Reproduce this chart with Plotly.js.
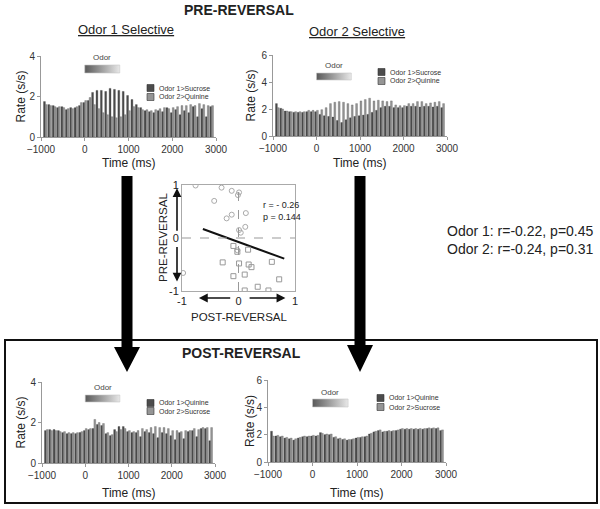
<!DOCTYPE html>
<html>
<head>
<meta charset="utf-8">
<script src="https://cdn.plot.ly/plotly-3.0.1.min.js"></script>
<style>
  body { margin: 0; background: #fff; }
  #chart { width: 600px; height: 509px; }
</style>
</head>
<body>
<div id="chart"></div>
<script>
// time bins (ms), 100 ms wide
const timeBins = [-900,-800,-700,-600,-500,-400,-300,-200,-100,0,100,200,300,400,500,600,700,800,900,1000,
  1100,1200,1300,1400,1500,1600,1700,1800,1900,2000,2100,2200,2300,2400,2500,2600,2700,2800,2900]
const timeTicks = [-1000, 0, 1000, 2000, 3000]
const odorWindow = [0, 800]

// PRE-REVERSAL, odor 1 selective
const preSel1Odor1 = [1.75,1.6,1.55,1.45,1.5,1.35,1.45,1.45,1.55,1.7,1.8,2.2,2.3,2.3,2.25,2.4,2.35,2.3,2.25,2.05,
  1.85,1.6,1.45,1.3,1.25,1.2,1.3,1.25,1.45,1.2,1.35,1.1,1.3,1.2,1.5,1.0,1.4,1.0,1.5]
const preSel1Odor2 = [1.6,1.55,1.5,1.5,1.45,1.4,1.4,1.5,1.7,1.8,1.95,1.6,1.4,1.2,1.1,1.0,0.95,1.0,1.1,1.3,
  1.5,1.45,1.35,1.35,1.3,1.35,1.4,1.45,1.4,1.45,1.5,1.55,1.55,1.6,1.55,1.65,1.6,1.55,1.55]
// PRE-REVERSAL, odor 2 selective
const preSel2Odor1 = [2.4,2.05,1.85,1.8,1.75,1.75,1.75,1.8,1.8,1.8,1.6,1.5,1.45,1.4,1.15,1.0,1.2,1.35,1.45,1.5,
  1.55,1.6,1.75,1.9,2.1,2.2,2.2,2.1,2.1,2.1,2.2,2.2,2.2,2.15,2.2,2.2,2.15,2.2,2.1]
const preSel2Odor2 = [2.1,2.0,1.85,1.8,1.8,1.8,1.8,1.9,1.9,1.9,1.95,2.1,2.4,2.5,2.55,2.5,2.4,2.3,2.4,2.6,
  2.7,2.8,2.6,2.65,2.6,2.55,2.6,2.3,2.25,2.25,2.4,2.4,2.55,2.55,2.4,2.45,2.5,2.55,2.4]
// POST-REVERSAL, odor 1 selective
const postSel1Odor1 = [1.6,1.65,1.65,1.6,1.5,1.45,1.45,1.45,1.5,1.6,1.65,1.7,1.9,1.85,1.45,1.35,1.65,1.8,1.8,1.55,
  1.5,1.5,1.3,1.55,1.5,1.45,1.25,1.5,1.45,1.35,1.15,1.5,1.2,1.55,1.6,1.3,1.7,1.7,1.1]
const postSel1Odor2 = [1.65,1.6,1.6,1.55,1.55,1.5,1.5,1.5,1.55,1.7,1.7,2.15,2.0,1.95,1.5,1.4,1.55,1.65,1.7,1.6,
  1.55,1.6,1.7,1.65,1.75,1.8,1.75,1.75,1.7,1.6,1.6,1.55,1.6,1.6,1.7,1.65,1.75,1.75,1.75]
// POST-REVERSAL, odor 2 selective
const postSel2Odor1 = [2.25,1.9,1.85,1.75,1.7,1.6,1.75,1.85,1.85,1.9,1.9,2.15,2.0,2.0,1.8,1.7,1.65,1.6,1.65,1.75,
  1.8,1.85,2.05,2.2,2.3,2.2,2.25,2.25,2.3,2.4,2.4,2.4,2.4,2.4,2.4,2.45,2.45,2.45,2.3]
const postSel2Odor2 = [1.9,1.95,1.9,1.8,1.75,1.7,1.8,1.9,1.9,1.95,1.95,2.1,2.05,2.05,1.85,1.75,1.7,1.65,1.7,1.8,
  1.85,1.9,2.1,2.25,2.35,2.25,2.3,2.3,2.35,2.45,2.45,2.45,2.45,2.45,2.45,2.5,2.5,2.5,2.35]

// correlation scatter (normalized selectivity)
const circX = [-0.76,-0.30,-0.12,-0.01,0.01,-0.43,-0.12,-0.21,0.13,0.12,0.01,0.04,-0.98,-0.02]
const circY = [0.99,0.95,0.89,0.81,0.86,0.70,0.44,0.37,0.47,0.21,0.15,0.10,-0.66,-0.23]
const sqX = [-0.09,0.17,-0.02,-0.28,0.01,0.18,0.23,0.59,-0.09,0.11,0.72,0.34,0.53,0.11]
const sqY = [-0.15,-0.22,-0.26,-0.46,-0.48,-0.50,-0.55,-0.45,-0.72,-0.69,-0.78,-0.92,-0.99,-0.99]
const fitX = [-0.63, 0.81]
const fitY = [0.17, -0.39]

const W = 600, H = 509
const px = v => v / W
const py = v => 1 - v / H
const FONT = 'Liberation Sans, Arial, Helvetica, sans-serif'
const DARK = '#4c4c4c', LIGHT = '#959595'

const panels = [
  {id: '', o1: preSel1Odor1, o2: preSel1Odor2, yMax: 4, yTicks: [0,2,4], x: [41,216], y: [56,137],
   odorY: [65,73], odorLbl: 58, legX: 147, legY: [88,97], leg: ['Odor 1>Sucrose','Odor 2>Quinine'], timeY: 163, rateX: 20},
  {id: '2', o1: preSel2Odor1, o2: preSel2Odor2, yMax: 6, yTicks: [0,2,4,6], x: [273,447], y: [55,136],
   odorY: [73,80], odorLbl: 66, legX: 378, legY: [72,81], leg: ['Odor 1>Sucrose','Odor 2>Quinine'], timeY: 163, rateX: 250},
  {id: '3', o1: postSel1Odor1, o2: postSel1Odor2, yMax: 4, yTicks: [0,2,4], x: [42,215], y: [382,463],
   odorY: [395,402], odorLbl: 387, legX: 147, legY: [403,411], leg: ['Odor 1>Quinine','Odor 2>Sucrose'], timeY: 493, rateX: 20},
  {id: '4', o1: postSel2Odor1, o2: postSel2Odor2, yMax: 6, yTicks: [0,2,4,6], x: [268,446], y: [380,462],
   odorY: [399,407], odorLbl: 392, legX: 377, legY: [398,407], leg: ['Odor 1>Quinine','Odor 2>Sucrose'], timeY: 493, rateX: 250}
]

const data = []
const annotations = []
const shapes = []
const layout = {
  width: W, height: H,
  margin: {l: 0, r: 0, t: 0, b: 0},
  paper_bgcolor: '#fff', plot_bgcolor: 'rgba(0,0,0,0)',
  font: {family: FONT, color: '#222'},
  showlegend: false,
  barmode: 'group', bargap: 0.15, bargroupgap: 0
}

const txt = (text, x, y, size, extra) => Object.assign({
  text: text, x: px(x), y: py(y), xref: 'paper', yref: 'paper', showarrow: false,
  xanchor: 'center', yanchor: 'middle',
  font: {family: FONT, size: size, color: '#222'}
}, extra || {})

for (const p of panels) {
  const xa = 'x' + p.id, ya = 'y' + p.id
  data.push({type: 'bar', x: timeBins, y: p.o1, xaxis: xa, yaxis: ya,
    marker: {color: DARK, line: {width: 0.3, color: '#333'}}, hoverinfo: 'skip'})
  data.push({type: 'bar', x: timeBins, y: p.o2, xaxis: xa, yaxis: ya,
    marker: {color: LIGHT, line: {width: 0.3, color: '#555'}}, hoverinfo: 'skip'})

  // gradient "Odor" bar over the odor period
  const toData = v => (p.y[1] - v) / (p.y[1] - p.y[0]) * p.yMax
  const lo = toData(p.odorY[1]), hi = toData(p.odorY[0])
  data.push({type: 'scatter', mode: 'lines', xaxis: xa, yaxis: ya, hoverinfo: 'skip',
    x: [odorWindow[0], odorWindow[1], odorWindow[1], odorWindow[0], odorWindow[0]],
    y: [lo, lo, hi, hi, lo], fill: 'toself',
    fillgradient: {type: 'horizontal', colorscale: [[0, '#595959'], [1, '#e8e8e8']]},
    line: {width: 0.6, color: '#c8c8c8'}})
  annotations.push({text: 'Odor', x: (odorWindow[0] + odorWindow[1]) / 2, xref: xa, y: py(p.odorLbl), yref: 'paper',
    xanchor: 'center', yanchor: 'middle', showarrow: false, font: {family: FONT, size: 8, color: '#444'}})

  layout['xaxis' + p.id] = {domain: [px(p.x[0]), px(p.x[1])], anchor: ya, range: [-1000, 3000],
    tickvals: timeTicks, showline: true, linecolor: '#999', ticks: 'outside', ticklen: 3, tickcolor: '#999',
    tickfont: {family: FONT, size: 10, color: '#333'}, showgrid: false, zeroline: false, fixedrange: true}
  layout['yaxis' + p.id] = {domain: [py(p.y[1]), py(p.y[0])], anchor: xa, range: [0, p.yMax],
    tickvals: p.yTicks, showline: true, linecolor: '#999', ticks: 'outside', ticklen: 3, tickcolor: '#999',
    tickfont: {family: FONT, size: 10, color: '#333'}, showgrid: false, zeroline: false, fixedrange: true}

  annotations.push(txt('Time (ms)', (p.x[0] + p.x[1]) / 2, p.timeY, 12))
  annotations.push(txt('Rate (s/s)', p.rateX, (p.y[0] + p.y[1]) / 2, 12, {textangle: -90}))

  // small legend
  const cols = [DARK, LIGHT]
  for (let i = 0; i < 2; i++) {
    shapes.push({type: 'rect', xref: 'paper', yref: 'paper', x0: px(p.legX), x1: px(p.legX + 7),
      y0: py(p.legY[i] + 3.5), y1: py(p.legY[i] - 3.5), fillcolor: cols[i], line: {width: 0.6, color: '#333'}})
    annotations.push(txt(p.leg[i], p.legX + 10, p.legY[i], 7, {xanchor: 'left', font: {family: FONT, size: 7, color: '#333'}}))
  }
}

// scatter of selectivity, pre vs post
data.push({type: 'scatter', mode: 'lines', x: fitX, y: fitY, xaxis: 'x5', yaxis: 'y5',
  line: {color: '#111', width: 2}, hoverinfo: 'skip'})
data.push({type: 'scatter', mode: 'markers', x: circX, y: circY, xaxis: 'x5', yaxis: 'y5',
  marker: {symbol: 'circle-open', size: 5, color: '#aaa', line: {width: 1}}, hoverinfo: 'skip'})
data.push({type: 'scatter', mode: 'markers', x: sqX, y: sqY, xaxis: 'x5', yaxis: 'y5',
  marker: {symbol: 'square-open', size: 5, color: '#999', line: {width: 1}}, hoverinfo: 'skip'})

const scAxis = {range: [-1, 1], tickvals: [-1, 0, 1], ticktext: ['-1', '0', '1'], showline: true, mirror: true,
  linecolor: '#aaa', ticks: '', showgrid: false, zeroline: false,
  tickfont: {family: FONT, size: 11, color: '#222'}, fixedrange: true}
layout.xaxis5 = Object.assign({}, scAxis, {domain: [px(182), px(295)], anchor: 'y5'})
layout.yaxis5 = Object.assign({}, scAxis, {domain: [py(291), py(185)], anchor: 'x5'})
// dashed zero lines
shapes.push({type: 'line', xref: 'x5', yref: 'y5', x0: 0, x1: 0, y0: -1, y1: 1, line: {color: '#999', width: 1, dash: 'dash'}})
shapes.push({type: 'line', xref: 'x5', yref: 'y5', x0: -1, x1: 1, y0: 0, y1: 0, line: {color: '#999', width: 1, dash: 'dash'}})

annotations.push({text: 'r = - 0.26<br>p = 0.144', x: px(261), y: py(198), xref: 'paper', yref: 'paper',
  xanchor: 'left', yanchor: 'top', align: 'left', showarrow: false, font: {family: FONT, size: 9, color: '#222'}})
annotations.push(txt('POST-REVERSAL', 239, 317, 11.5))
annotations.push(txt('PRE-REVERSAL', 163, 238, 11.5, {textangle: -90}))

// direction arrows of the scatter axes
const arr = {showarrow: true, text: '', arrowhead: 2, arrowsize: 1.1, arrowwidth: 1.6, arrowcolor: '#111'}
annotations.push(Object.assign({x: -0.7, xref: 'x5', ax: -0.12, axref: 'x5', y: py(298), yref: 'paper', ay: 0, ayref: 'pixel'}, arr))
annotations.push(Object.assign({x: 0.83, xref: 'x5', ax: 0.17, axref: 'x5', y: py(298), yref: 'paper', ay: 0, ayref: 'pixel'}, arr))
annotations.push(Object.assign({y: 0.94, yref: 'y5', ay: 0.11, ayref: 'y5', x: px(177), xref: 'paper', ax: 0, axref: 'pixel'}, arr))
annotations.push(Object.assign({y: -0.82, yref: 'y5', ay: -0.14, ayref: 'y5', x: px(177), xref: 'paper', ax: 0, axref: 'pixel'}, arr))

// headings
annotations.push(txt('<b>PRE-REVERSAL</b>', 239, 10, 14))
annotations.push(txt('<u>Odor 1 Selective</u>', 126, 30, 13))
annotations.push(txt('<u>Odor 2 Selective</u>', 357, 31, 13))
annotations.push(txt('<b>POST-REVERSAL</b>', 241, 353, 14))
annotations.push(txt('Odor 1: r=-0.22, p=0.45<br>Odor 2: r=-0.24, p=0.31', 445, 240, 14,
  {xanchor: 'left', align: 'left'}))

// post-reversal frame
shapes.push({type: 'rect', xref: 'paper', yref: 'paper', x0: px(5), x1: px(597), y0: py(503), y1: py(340),
  line: {color: '#111', width: 2}})

// big arrows from pre to post
const bigArrow = (cx, top, headTop, tip) => {
  const s = 5.5, h = 13
  return 'M ' + px(cx - s) + ' ' + py(top) + ' L ' + px(cx + s) + ' ' + py(top) +
    ' L ' + px(cx + s) + ' ' + py(headTop) + ' L ' + px(cx + h) + ' ' + py(headTop) +
    ' L ' + px(cx) + ' ' + py(tip) + ' L ' + px(cx - h) + ' ' + py(headTop) +
    ' L ' + px(cx - s) + ' ' + py(headTop) + ' Z'
}
shapes.push({type: 'path', xref: 'paper', yref: 'paper', path: bigArrow(127, 176, 347, 372), fillcolor: '#000', line: {width: 0}})
shapes.push({type: 'path', xref: 'paper', yref: 'paper', path: bigArrow(360, 176, 345, 372), fillcolor: '#000', line: {width: 0}})

layout.annotations = annotations
layout.shapes = shapes

Plotly.newPlot('chart', data, layout, {staticPlot: true})
</script>
</body>
</html>
